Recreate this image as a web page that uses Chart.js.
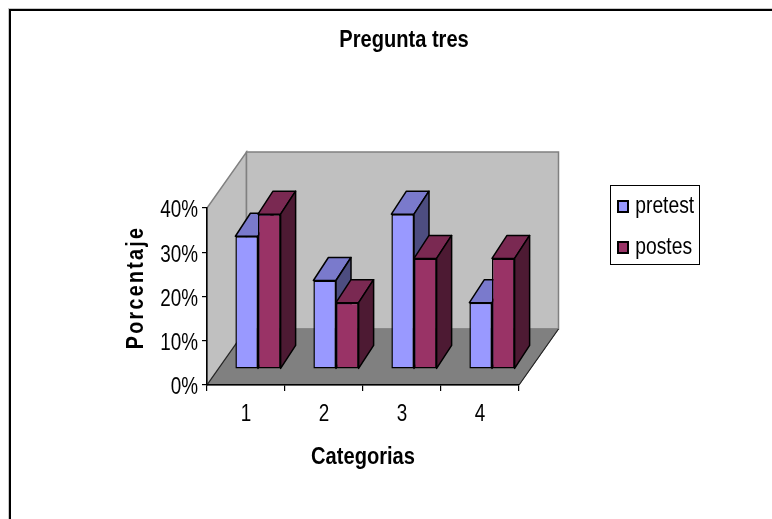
<!DOCTYPE html>
<html>
<head>
<meta charset="utf-8">
<title>Pregunta tres</title>
<script src="https://cdn.jsdelivr.net/npm/chart.js@4"></script>
<style>
    html, body { margin: 0; padding: 0; background: #fff; overflow: hidden; }
    canvas { display: block; }
</style>
</head>
<body>
<canvas id="chart" width="772" height="519"></canvas>
<script>
const categories = ['1', '2', '3', '4'];
const seriesNames = ['pretest', 'postes'];
const pretest = [30, 20, 35, 15];
const postes = [35, 15, 25, 25];
const yTickLabels = ['0%', '10%', '20%', '30%', '40%'];

const FONT = '"Liberation Sans", Arial, sans-serif';
const TEXT_SQUEEZE = 0.82;

// depth of the floor and of each bar (the 3D look is not in Chart.js)
const WALL_DX = 39.5, WALL_DY = 56;
const BAR_SHIFT_X = 12, BAR_SHIFT_Y = 16;
const BAR_DX = 15, BAR_DY = 23;

const faces = [
    { front: '#9999FF', top: '#7A7ACC', side: '#4D4D80' },
    { front: '#993366', top: '#7A2952', side: '#4D1A33' }
];

// the reference text is narrow like Arial Narrow, no such font here, so squeeze it
const canvas = document.getElementById('chart');
const ctx2d = canvas.getContext('2d');
const plainFillText = ctx2d.fillText.bind(ctx2d);
ctx2d.fillText = function (text, x, y) {
    ctx2d.save();
    ctx2d.translate(x, y);
    ctx2d.scale(TEXT_SQUEEZE, 1);
    plainFillText(text, 0, 0);
    ctx2d.restore();
};

function polygon(ctx, pts, fill, stroke, width) {
    ctx.beginPath();
    pts.forEach((p, i) => i ? ctx.lineTo(p[0], p[1]) : ctx.moveTo(p[0], p[1]));
    ctx.closePath();
    ctx.fillStyle = fill;
    ctx.fill();
    ctx.lineWidth = width;
    ctx.strokeStyle = stroke;
    ctx.stroke();
}

function legendMarker(color) {
    const c = document.createElement('canvas');
    c.width = 18;
    c.height = 16;
    const g = c.getContext('2d');
    g.fillStyle = color;
    g.fillRect(7, 2, 10, 11);
    g.lineWidth = 2;
    g.strokeStyle = '#000';
    g.strokeRect(7, 2, 10, 11);
    return c;
}
const markers = faces.map(f => legendMarker(f.front));

const box3d = {
    id: 'box3d',
    afterLayout(chart) {
        // title is centred on the original, wider picture
        chart.titleBlock.left = 0;
        chart.titleBlock.right = 808;
        // legend sits in its own box right of the plot
        const lg = chart.legend;
        lg.left = 599;
        lg.right = 730;
        lg.top = 177.75;
        lg.bottom = 320;
        const y = chart.scales.y;
        if (!y._spaced) {
            // spaced out y axis title, a bit above the axis middle
            const drawTitle = y.drawTitle;
            y.drawTitle = function () {
                const ctx = this.ctx;
                ctx.save();
                ctx.translate(0, -9);
                ctx.letterSpacing = '2.8px';
                drawTitle.call(this);
                ctx.restore();
            };
            // tick labels sit slightly under their ticks
            const drawLabels = y.drawLabels;
            y.drawLabels = function (area) {
                const ctx = this.ctx;
                ctx.save();
                ctx.translate(0, 3);
                drawLabels.call(this, area);
                ctx.restore();
            };
            y._spaced = true;
        }
    },
    beforeDraw(chart) {
        const ctx = chart.ctx;
        const { left, right, top, bottom } = chart.chartArea;
        const dx = WALL_DX, dy = WALL_DY;

        // page frame, runs off the picture on the right and bottom
        ctx.save();
        ctx.fillStyle = '#c8c8c8';
        ctx.fillRect(8, 8, 764, 1);
        ctx.fillRect(8, 8, 1, 511);
        ctx.fillStyle = '#000';
        ctx.fillRect(9, 9, 763, 2);
        ctx.fillRect(9, 9, 2, 510);

        polygon(ctx, [[left, bottom], [left + dx, bottom - dy], [left + dx, top - dy], [left, top]], '#C0C0C0', '#808080', 1.5);
        polygon(ctx, [[left + dx, top - dy], [right + dx, top - dy], [right + dx, bottom - dy], [left + dx, bottom - dy]], '#C0C0C0', '#808080', 1.5);
        polygon(ctx, [[left, bottom], [left + dx, bottom - dy], [right + dx, bottom - dy], [right, bottom]], '#808080', '#808080', 1);

        ctx.strokeStyle = '#222';
        ctx.lineWidth = 1.2;
        ctx.beginPath();
        ctx.moveTo(left, bottom);
        ctx.lineTo(left + dx, bottom - dy);
        ctx.moveTo(right, bottom);
        ctx.lineTo(right + dx, bottom - dy);
        ctx.stroke();
        ctx.restore();
    },
    // tops and sides first, pretest then postes, the fronts go over them
    beforeDatasetsDraw(chart) {
        const ctx = chart.ctx;
        ctx.save();
        ctx.translate(BAR_SHIFT_X, -BAR_SHIFT_Y);
        ctx.lineJoin = 'round';
        faces.forEach((f, i) => {
            chart.getDatasetMeta(i).data.forEach(bar => {
                const { x, y, base, width } = bar.getProps(['x', 'y', 'base', 'width'], true);
                const l = x - width / 2, r = x + width / 2;
                polygon(ctx, [[l, y], [r, y], [r + BAR_DX, y - BAR_DY], [l + BAR_DX, y - BAR_DY]], f.top, '#000', 1.5);
                polygon(ctx, [[r, y], [r, base], [r + BAR_DX, base - BAR_DY], [r + BAR_DX, y - BAR_DY]], f.side, '#000', 1.5);
            });
        });
        ctx.restore();
    },
    beforeDatasetDraw(chart) {
        chart.ctx.save();
        chart.ctx.translate(BAR_SHIFT_X, -BAR_SHIFT_Y);
    },
    afterDatasetDraw(chart) {
        chart.ctx.restore();
    },
    afterDraw(chart) {
        const ctx = chart.ctx;
        ctx.save();
        ctx.strokeStyle = '#000';
        ctx.lineWidth = 1;
        ctx.strokeRect(610.5, 185.5, 89, 79);
        ctx.restore();
    }
};

new Chart(canvas, {
    type: 'bar',
    data: {
        labels: categories,
        datasets: [
            { label: seriesNames[0], data: pretest, backgroundColor: faces[0].front },
            { label: seriesNames[1], data: postes, backgroundColor: faces[1].front }
        ]
    },
    options: {
        responsive: false,
        animation: false,
        clip: false,
        layout: { padding: { right: 253 } },
        datasets: {
            bar: {
                categoryPercentage: 0.58,
                barPercentage: 1,
                borderWidth: 1.5,
                borderColor: '#000',
                borderSkipped: false
            }
        },
        scales: {
            x: {
                afterFit: s => { s.height = 134; },
                grid: { drawOnChartArea: false, drawTicks: true, tickLength: 6, color: '#000', lineWidth: 1.2 },
                border: { color: '#000', width: 1.5 },
                ticks: { color: '#000', font: { family: FONT, size: 23 }, padding: 10, maxRotation: 0, autoSkip: false },
                title: {
                    display: true,
                    text: 'Categorias',
                    color: '#000',
                    font: { family: FONT, size: 24.5, weight: 'bold' },
                    padding: { top: 0, bottom: 47 }
                }
            },
            y: {
                min: 0,
                max: 40,
                afterFit: s => { s.width = 207; },
                grid: { drawOnChartArea: false, drawTicks: true, tickLength: 5, color: '#000', lineWidth: 1.2 },
                border: { color: '#000', width: 1.5 },
                ticks: {
                    stepSize: 10,
                    color: '#000',
                    font: { family: FONT, size: 23 },
                    padding: 4,
                    callback: (v, i) => yTickLabels[i]
                },
                title: {
                    display: true,
                    text: 'Porcentaje',
                    color: '#000',
                    font: { family: FONT, size: 24, weight: 'bold' },
                    padding: { top: 121.6, bottom: 0 }
                }
            }
        },
        plugins: {
            title: {
                display: true,
                text: 'Pregunta tres',
                color: '#000',
                font: { family: FONT, size: 24.5, weight: 'bold' },
                padding: { top: 26, bottom: 152.6 }
            },
            legend: {
                position: 'chartArea',
                align: 'start',
                labels: {
                    color: '#000',
                    font: { family: FONT, size: 23.5 },
                    padding: 17.5,
                    usePointStyle: true,
                    pointStyleWidth: 7,
                    boxHeight: 12,
                    generateLabels: () => seriesNames.map((text, i) => ({
                        text,
                        pointStyle: markers[i],
                        datasetIndex: i,
                        hidden: false,
                        fontColor: '#000'
                    }))
                }
            },
            tooltip: { enabled: false }
        }
    },
    plugins: [box3d]
});
</script>
</body>
</html>
